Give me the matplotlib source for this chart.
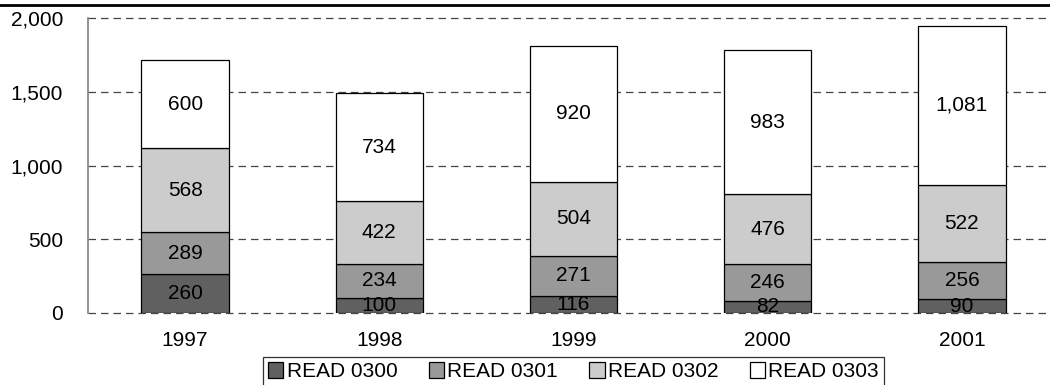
import matplotlib
matplotlib.use("Agg")
import matplotlib.pyplot as plt
from matplotlib.lines import Line2D
import numpy as np

years = ["1997", "1998", "1999", "2000", "2001"]
read_0300 = [260, 100, 116, 82, 90]
read_0301 = [289, 234, 271, 246, 256]
read_0302 = [568, 422, 504, 476, 522]
read_0303 = [600, 734, 920, 983, 1081]
series_names = ["READ 0300", "READ 0301", "READ 0302", "READ 0303"]
colors = ["#606060", "#999999", "#cccccc", "#ffffff"]

plt.rcParams["font.family"] = ["Liberation Sans", "DejaVu Sans"]
plt.rcParams["font.size"] = 15

W, H = 1050, 385
fig = plt.figure(figsize=(W / 100, H / 100), dpi=100)
# axes goes a bit past the right edge, like the original
left, right, bottom, top = 88, 1059, 312.7, 18.3
ax = fig.add_axes([left / W, (H - bottom) / H, (right - left) / W, (bottom - top) / H])

x = np.arange(len(years))
base = np.zeros(len(years))
for vals, name, col in zip([read_0300, read_0301, read_0302, read_0303], series_names, colors):
    vals = np.array(vals)
    ax.bar(x, vals, 0.45, bottom=base, color=col, edgecolor="black", linewidth=0.9,
           label=name, zorder=3)
    for xi, b, v in zip(x, base, vals):
        ax.text(xi, b + v / 2, f"{v:,}", ha="center", va="center", zorder=4)
    base = base + vals

ax.set_xlim(-0.5, 4.5)
ax.set_ylim(0, 2000)
ax.set_yticks([0, 500, 1000, 1500, 2000])
ax.set_yticklabels([f"{v:,}" for v in [0, 500, 1000, 1500, 2000]])
ax.set_xticks(x)
ax.set_xticklabels(years)
ax.tick_params(axis="y", length=0, pad=18)
ax.tick_params(axis="x", length=0, pad=13)
for v in [0, 500, 1000, 1500, 2000]:
    ax.axhline(v, color="#444444", linestyle=(0, (6, 4)), linewidth=0.9, zorder=1, clip_on=False)
for s in ["top", "right", "bottom"]:
    ax.spines[s].set_visible(False)
ax.spines["left"].set_color("#808080")
ax.spines["left"].set_linewidth(1.2)

leg = ax.legend(loc="upper center", bbox_to_anchor=(0.5, -0.151), ncol=4, frameon=True,
                fancybox=False, edgecolor="black", handlelength=0.75, handleheight=0.75,
                handletextpad=0.15, columnspacing=1.5, borderpad=0.25, borderaxespad=0)
leg.get_frame().set_linewidth(0.9)

# thin black rule across the top of the figure
fig.add_artist(Line2D([0, 1], [1 - 5 / H, 1 - 5 / H], color="black", linewidth=2,
                      transform=fig.transFigure))

fig.savefig("out.png", dpi=100)
